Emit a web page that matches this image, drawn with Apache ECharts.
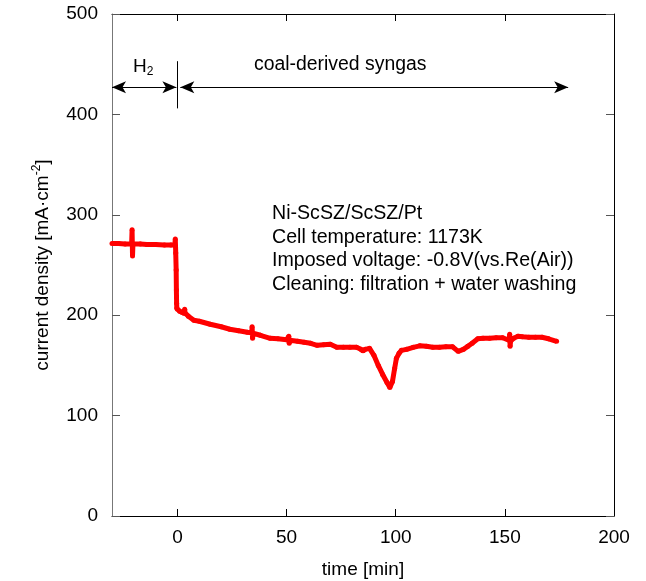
<!DOCTYPE html>
<html>
<head>
<meta charset="utf-8">
<script src="https://cdn.jsdelivr.net/npm/echarts@6/dist/echarts.min.js"></script>
<style>
  html, body { margin: 0; padding: 0; background: #fff; }
  #main { width: 646px; height: 581px; }
</style>
</head>
<body>
<div id="main"></div>
<script>
// 读图得到的数据 (time [min], current density [mA/cm2])
var timeMin = [
  -30, -27, -24, -21, -20.8, -20.6, -20.4, -17, -14, -10, -6, -3, -1.2, -1, -0.8, -0.6, -0.5, -0.4, -0.3,
  0, 1, 2, 3, 3.3, 3.5, 5, 7.5, 10, 15, 20, 24, 28, 32, 34, 34.2, 34.4, 34.6, 38, 42.5, 46,
  50, 51, 51.2, 51.4, 55, 58, 61, 64, 67, 70, 73, 76, 79, 82, 84, 85, 86,
  88, 90, 92, 94, 96, 97.3, 98.5, 99.5, 100.3, 101.5, 102.6, 105, 108, 111, 114, 117, 120, 123, 126,
  128.6, 131, 133, 135, 137.6, 140, 143, 146, 149, 152, 152.2, 152.4, 152.6, 154, 156, 158, 161, 164, 167, 170, 173.7
];
var currentDensity = [
  271.5, 271.5, 271, 271, 285, 259, 271, 270.8, 270.5, 270.3, 270, 270, 270, 276, 262, 245, 225, 212, 207,
  206, 204, 203, 202, 206, 202, 199, 195, 194, 191, 188.5, 186, 184.5, 183, 182.5, 188.5, 177, 182, 180, 177, 176.5,
  175.5, 179, 172, 175, 174, 173, 172, 170, 170.5, 171, 168, 168, 168, 168, 166, 164.5, 166,
  167, 160, 150, 141, 133, 128, 134, 147, 157, 162, 165, 166, 168, 169.5, 169, 168, 168, 168.5, 168.5,
  164, 166, 169, 172, 176.5, 177, 177, 177.5, 177.5, 175, 181, 169, 174, 177, 179, 178.5, 178, 178, 178, 176.5, 174
];

// 图中箭头 (H2 段 / coal-derived syngas 段)
var arrowLevel = 427;
var h2Span = [-30, -0.5];
var syngasSpan = [1.3, 179];
var dividerSpan = [406, 453];

var xTicks = [0, 50, 100, 150, 200];
var yTicks = [0, 100, 200, 300, 400, 500];

var seriesData = timeMin.map(function (t, i) { return [t, currentDensity[i]]; });

var font = 'Liberation Sans, Arial, sans-serif';

var chartDom = document.getElementById('main');
var myChart = echarts.init(chartDom);

var option = {
  animation: false,
  grid: { left: 112, right: 32, top: 14, bottom: 65, outerBoundsMode: 'none', containLabel: false },
  xAxis: [
    {
      type: 'value',
      min: -30,
      max: 200,
      name: 'time [min]',
      nameLocation: 'middle',
      nameGap: 44,
      nameTextStyle: { color: '#000', fontSize: 19, fontFamily: font },
      axisLine: { onZero: false, lineStyle: { color: '#000', width: 1 } },
      axisTick: { inside: true, length: 7, customValues: xTicks, lineStyle: { color: '#000' } },
      axisLabel: { color: '#000', fontSize: 19, fontFamily: font, margin: 12, customValues: xTicks },
      splitLine: { show: false }
    },
    {
      type: 'value',
      position: 'top',
      min: -30,
      max: 200,
      axisLine: { onZero: false, lineStyle: { color: '#000', width: 1 } },
      axisTick: { inside: true, length: 7, customValues: xTicks, lineStyle: { color: '#000' } },
      axisLabel: { show: false },
      splitLine: { show: false }
    }
  ],
  yAxis: [
    {
      type: 'value',
      min: 0,
      max: 500,
      interval: 100,
      name: '{a|current density [mA·cm}{sup|-2}{a|]}',
      nameLocation: 'middle',
      nameGap: 57,
      nameTextStyle: {
        rich: {
          a: { fontSize: 19, fontFamily: font, color: '#000', lineHeight: 24 },
          sup: { fontSize: 12, fontFamily: font, color: '#000', lineHeight: 24, verticalAlign: 'top' }
        }
      },
      axisLine: { onZero: false, lineStyle: { color: '#777', width: 1 } },
      axisTick: { inside: true, length: 8, customValues: yTicks, lineStyle: { color: '#555' } },
      axisLabel: { color: '#000', fontSize: 19, fontFamily: font, margin: 14, customValues: yTicks },
      splitLine: { show: false }
    },
    {
      type: 'value',
      position: 'right',
      min: 0,
      max: 500,
      interval: 100,
      axisLine: { onZero: false, lineStyle: { color: '#000', width: 1 } },
      axisTick: { inside: true, length: 8, customValues: yTicks, lineStyle: { color: '#555' } },
      axisLabel: { show: false },
      splitLine: { show: false }
    }
  ],
  graphic: [
    {
      type: 'text', left: 133, top: 57,
      style: {
        text: '{a|H}{sub|2}',
        rich: {
          a: { fontSize: 19, fontFamily: font, fill: '#000' },
          sub: { fontSize: 12, fontFamily: font, fill: '#000', padding: [10, 0, 0, 0] }
        }
      }
    },
    {
      type: 'text', left: 254, top: 55,
      style: { text: 'coal-derived syngas', fontSize: 19.4, fontFamily: font, fill: '#000' }
    },
    {
      type: 'text', left: 272, top: 202,
      style: {
        text: 'Ni-ScSZ/ScSZ/Pt\nCell temperature: 1173K\nImposed voltage: -0.8V(vs.Re(Air))\nCleaning: filtration + water washing',
        fontSize: 19.6, fontFamily: font, fill: '#000', lineHeight: 23.5
      }
    }
  ],
  series: [
    {
      type: 'line',
      data: seriesData,
      xAxisIndex: 0,
      yAxisIndex: 0,
      showSymbol: true,
      showAllSymbol: true,
      symbol: 'circle',
      symbolSize: 5,
      itemStyle: { color: '#ff0000' },
      lineStyle: { color: '#ff0000', width: 5 },
      z: 3,
      markLine: {
        silent: true,
        symbol: ['arrow', 'arrow'],
        symbolSize: [9, 14],
        label: { show: false },
        lineStyle: { color: '#000', width: 1, type: 'solid' },
        data: [
          [{ coord: [h2Span[0], arrowLevel] }, { coord: [h2Span[1], arrowLevel] }],
          [{ coord: [syngasSpan[0], arrowLevel] }, { coord: [syngasSpan[1], arrowLevel] }],
          [
            { coord: [0, dividerSpan[0]], symbol: 'none' },
            { coord: [0, dividerSpan[1]], symbol: 'none' }
          ]
        ]
      }
    }
  ]
};

myChart.setOption(option);
</script>
</body>
</html>
